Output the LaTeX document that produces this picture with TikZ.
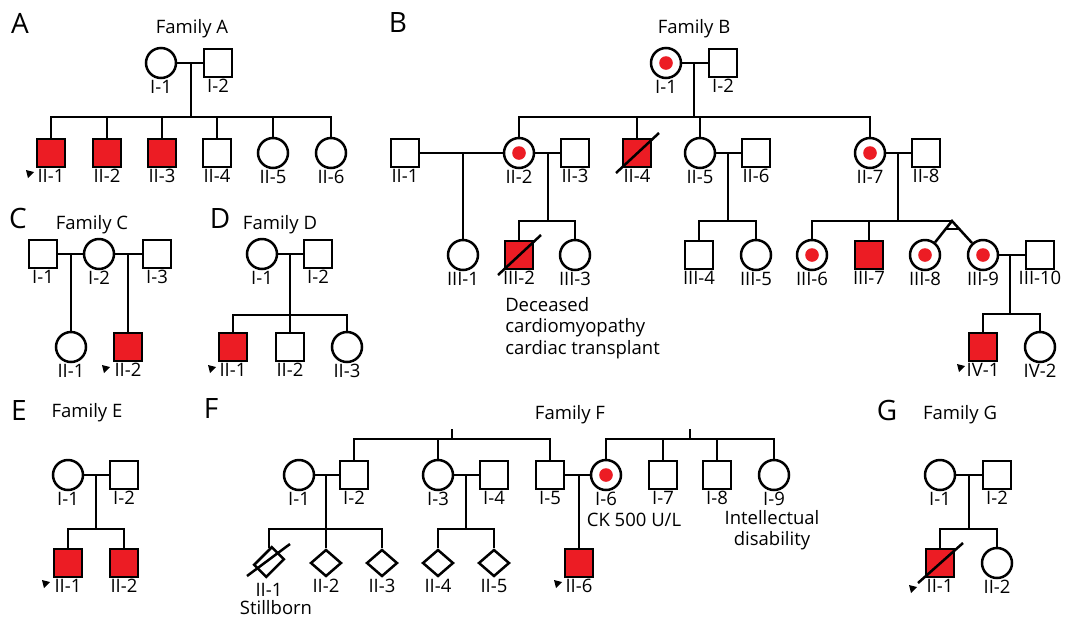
\documentclass[tikz,border=0pt]{standalone}
\usepackage{fontspec}
\setmainfont{Open Sans}
\usetikzlibrary{shapes.geometric,calc}
\definecolor{pedred}{RGB}{236,28,36}
\tikzset{
  person/.style={draw, line width=2.5pt, inner sep=0pt, fill=white, label distance=6pt},
  male/.style={person, rectangle, minimum size=28pt},
  female/.style={person, circle, minimum size=30pt},
  unknown/.style={person, diamond, minimum width=31pt, minimum height=27pt},
  stillborn/.style={person, rectangle, minimum width=25pt, minimum height=17pt, rotate=45},
  affected/.style={fill=pedred},
  carrier/.style={path picture={\fill[pedred] (path picture bounding box.center) circle (6.8pt);}},
  panel/.style={font=\fontsize{28}{30}\selectfont, inner sep=0pt},
  family/.style={inner sep=0pt},
  note/.style={inner sep=0pt, align=center},
  proband/.pic={\fill (-4,-4) -- (4,-2) -- (-2,4) -- cycle;}
}
\begin{document}
\begin{tikzpicture}[x=1pt, y=-1pt, line width=2.5pt, font=\fontsize{18.5}{21.5}\selectfont,
    every label/.style={inner sep=0pt}]
  \useasboundingbox (0,0) rectangle (1065,622);

  % Family A
  \node[panel] (pa) at (20,23) {A};
  \node[family] (fa) at (192,29) {Family A};
  \node[female, label=below:I-1] (a11) at (161,63) {};
  \node[male, label=below:I-2] (a12) at (218,63) {};
  \node[male, affected, label=below:II-1] (a21) at (51,153) {};
  \node[male, affected, label=below:II-2] (a22) at (107,153) {};
  \node[male, affected, label=below:II-3] (a23) at (162,153) {};
  \node[male, label=below:II-4] (a24) at (217,153) {};
  \node[female, label=below:II-5] (a25) at (273,153) {};
  \node[female, label=below:II-6] (a26) at (331,153) {};
  \coordinate (am) at (191,63);
  \coordinate (asib) at (191,117);
  \draw (a11) -- (a12);
  \draw (am) -- (asib);
  \draw (a21) |- (asib) -| (a26);
  \foreach \k in {a22,a23,a24,a25} \draw (\k) -- (\k |- asib);
  \pic at ($(a21)+(-21,21)$) {proband};

  % Family B
  \node[panel] (pb) at (398,23) {B};
  \node[family] (fb) at (694,29) {Family B};
  \node[female, carrier, label=below:I-1] (b11) at (666,63) {};
  \node[male, label=below:I-2] (b12) at (723,63) {};
  \node[male, label=below:II-1] (b21) at (405,153) {};
  \node[female, carrier, label=below:II-2] (b22) at (519,153) {};
  \node[male, label=below:II-3] (b23) at (575,153) {};
  \node[male, affected, label=below:II-4] (b24) at (637,153) {};
  \node[female, label=below:II-5] (b25) at (700,153) {};
  \node[male, label=below:II-6] (b26) at (756,153) {};
  \node[female, carrier, label=below:II-7] (b27) at (870,153) {};
  \node[male, label=below:II-8] (b28) at (926,153) {};
  \node[female, label=below:III-1] (b31) at (463,255) {};
  \node[male, affected, label=below:III-2] (b32) at (519,255) {};
  \node[female, label=below:III-3] (b33) at (575,255) {};
  \node[male, label=below:III-4] (b34) at (699,255) {};
  \node[female, label=below:III-5] (b35) at (756,255) {};
  \node[female, carrier, label=below:III-6] (b36) at (812,255) {};
  \node[male, affected, label=below:III-7] (b37) at (869,255) {};
  \node[female, carrier, label=below:III-8] (b38) at (925,255) {};
  \node[female, carrier, label=below:III-9] (b39) at (983,255) {};
  \node[male, label=below:III-10] (b310) at (1040,255) {};
  \node[male, affected, label=below:IV-1] (b41) at (983,347) {};
  \node[female, label=below:IV-2] (b42) at (1040,347) {};
  \node[note, anchor=north west, align=left] (b32n) at (504,296) {Deceased\\cardiomyopathy\\cardiac transplant};
  \coordinate (bm) at (694,63);
  \coordinate (bsib) at (694,117);
  \draw (b11) -- (b12);
  \draw (bm) -- (bsib);
  \draw (b22) |- (bsib) -| (b27);
  \draw (b24) -- (b24 |- bsib);
  \draw (b25) -- (b25 |- bsib);
  \draw (b21) -- (b22);
  \draw (b22) -- (b23);
  \draw (b25) -- (b26);
  \draw (b27) -- (b28);
  \coordinate (bm1) at (463,153);
  \draw (bm1) -- (b31);
  \coordinate (bm2) at (548,153);
  \coordinate (bsib2) at (548,221);
  \draw (bm2) -- (bsib2);
  \draw (b32) |- (bsib2) -| (b33);
  \coordinate (bm3) at (728,153);
  \coordinate (bsib3) at (728,221);
  \draw (bm3) -- (bsib3);
  \draw (b34) |- (bsib3) -| (b35);
  \coordinate (bm4) at (898,153);
  \coordinate (btw) at (952,221);
  \draw (bm4) -- (bm4 |- btw);
  \draw (b36) |- (btw);
  \draw (b37) -- (b37 |- btw);
  \draw (b38) -- (btw) -- (b39);
  \draw ($(btw)!0.24!(b38)$) -- ($(btw)!0.24!(b39)$);
  \draw (b39) -- (b310);
  \coordinate (bm5) at (1010,255);
  \coordinate (bsib5) at (1010,314);
  \draw (bm5) -- (bsib5);
  \draw (b41) |- (bsib5) -| (b42);
  \draw (b24) ++(-21,20) -- ++(43,-40);
  \draw (b32) ++(-21,20) -- ++(43,-40);
  \pic at ($(b41)+(-22,21)$) {proband};

  % Family C
  \node[panel] (pc) at (18,218) {C};
  \node[family] (fc) at (92,225) {Family C};
  \node[male, label=below:I-1] (c11) at (43,254) {};
  \node[female, label=below:I-2] (c12) at (99,254) {};
  \node[male, label=below:I-3] (c13) at (157,254) {};
  \node[female, label=below:II-1] (c21) at (71,347) {};
  \node[male, affected, label=below:II-2] (c22) at (128,347) {};
  \coordinate (cm1) at (71,254);
  \coordinate (cm2) at (128,254);
  \draw (c11) -- (c12);
  \draw (c12) -- (c13);
  \draw (cm1) -- (c21);
  \draw (cm2) -- (c22);
  \pic at ($(c22)+(-22,22)$) {proband};

  % Family D
  \node[panel] (pd) at (220,218) {D};
  \node[family] (fd) at (280,225) {Family D};
  \node[female, label=below:I-1] (d11) at (262,254) {};
  \node[male, label=below:I-2] (d12) at (318,254) {};
  \node[male, affected, label=below:II-1] (d21) at (233,347) {};
  \node[male, label=below:II-2] (d22) at (290,347) {};
  \node[female, label=below:II-3] (d23) at (347,347) {};
  \coordinate (dm) at (290,254);
  \coordinate (dsib) at (290,315);
  \draw (d11) -- (d12);
  \draw (dm) -- (dsib);
  \draw (d21) |- (dsib) -| (d23);
  \draw (d22) -- (dsib);
  \pic at ($(d21)+(-21,22)$) {proband};

  % Family E
  \node[panel] (pe) at (19,410) {E};
  \node[family] (fe) at (87,413) {Family E};
  \node[female, label=below:I-1] (e11) at (68,475) {};
  \node[male, label=below:I-2] (e12) at (124,475) {};
  \node[male, affected, label=below:II-1] (e21) at (68,563) {};
  \node[male, affected, label=below:II-2] (e22) at (124,563) {};
  \coordinate (em) at (96,475);
  \coordinate (esib) at (96,529);
  \draw (e11) -- (e12);
  \draw (em) -- (esib);
  \draw (e21) |- (esib) -| (e22);
  \pic at ($(e21)+(-22,21)$) {proband};

  % Family F
  \node[panel] (pf) at (211,408) {F};
  \node[family] (ff) at (570,415) {Family F};
  \node[female, label=below:I-1] (f11) at (299,475) {};
  \node[male, label=below:I-2] (f12) at (354,475) {};
  \node[female, label=below:I-3] (f13) at (438,475) {};
  \node[male, label=below:I-4] (f14) at (494,475) {};
  \node[male, label=below:I-5] (f15) at (550,475) {};
  \node[female, carrier, label=below:I-6] (f16) at (606,475) {};
  \node[male, label=below:I-7] (f17) at (663,475) {};
  \node[male, label=below:I-8] (f18) at (717,475) {};
  \node[female, label=below:I-9] (f19) at (774,475) {};
  \node[stillborn] (f21) at (269,562) {};
  \node (f21l) [inner sep=0pt] at (269,590) {II-1};
  \node[unknown, label=below:II-2] (f22) at (326,563) {};
  \node[unknown, label=below:II-3] (f23) at (382,563) {};
  \node[unknown, label=below:II-4] (f24) at (438,563) {};
  \node[unknown, label=below:II-5] (f25) at (494,563) {};
  \node[male, affected, label=below:II-6] (f26) at (579,563) {};
  \node[note] (f21n) at (276,608) {Stillborn};
  \node[note] (f16n) at (634,520) {CK 500 U/L};
  \node[note] (f19n) at (772,530) {Intellectual\\disability};
  \coordinate (ft1) at (452,439);
  \coordinate (ft1u) at (452,429);
  \coordinate (ft2) at (690,439);
  \coordinate (ft2u) at (690,429);
  \draw (ft1u) -- (ft1);
  \draw (f12) |- (ft1) -| (f15);
  \draw (f13) -- (f13 |- ft1);
  \draw (ft2u) -- (ft2);
  \draw (f16) |- (ft2) -| (f19);
  \draw (f17) -- (f17 |- ft2);
  \draw (f18) -- (f18 |- ft2);
  \draw (f11) -- (f12);
  \draw (f13) -- (f14);
  \draw (f15) -- (f16);
  \coordinate (fm1) at (326,475);
  \coordinate (fsib1) at (326,529);
  \draw (fm1) -- (fsib1);
  \draw (f21) |- (fsib1) -| (f23);
  \draw (f22) -- (fsib1);
  \coordinate (fm2) at (466,475);
  \coordinate (fsib2) at (466,529);
  \draw (fm2) -- (fsib2);
  \draw (f24) |- (fsib2) -| (f25);
  \coordinate (fm3) at (579,475);
  \draw (fm3) -- (f26);
  \draw (f21) ++(-22,14) -- ++(43,-32);
  \pic at ($(f26)+(-21,21)$) {proband};

  % Family G
  \node[panel] (pg) at (887,410) {G};
  \node[family] (fg) at (960,415) {Family G};
  \node[female, label=below:I-1] (g11) at (940,475) {};
  \node[male, label=below:I-2] (g12) at (997,475) {};
  \node[male, affected, label=below:II-1] (g21) at (940,563) {};
  \node[female, label=below:II-2] (g22) at (997,563) {};
  \coordinate (gm) at (969,475);
  \coordinate (gsib) at (969,529);
  \draw (g11) -- (g12);
  \draw (gm) -- (gsib);
  \draw (g21) |- (gsib) -| (g22);
  \draw (g21) ++(23,-20) -- ++(-45,40);
  \pic at ($(g21)+(-27,26)$) {proband};
\end{tikzpicture}
\end{document}
